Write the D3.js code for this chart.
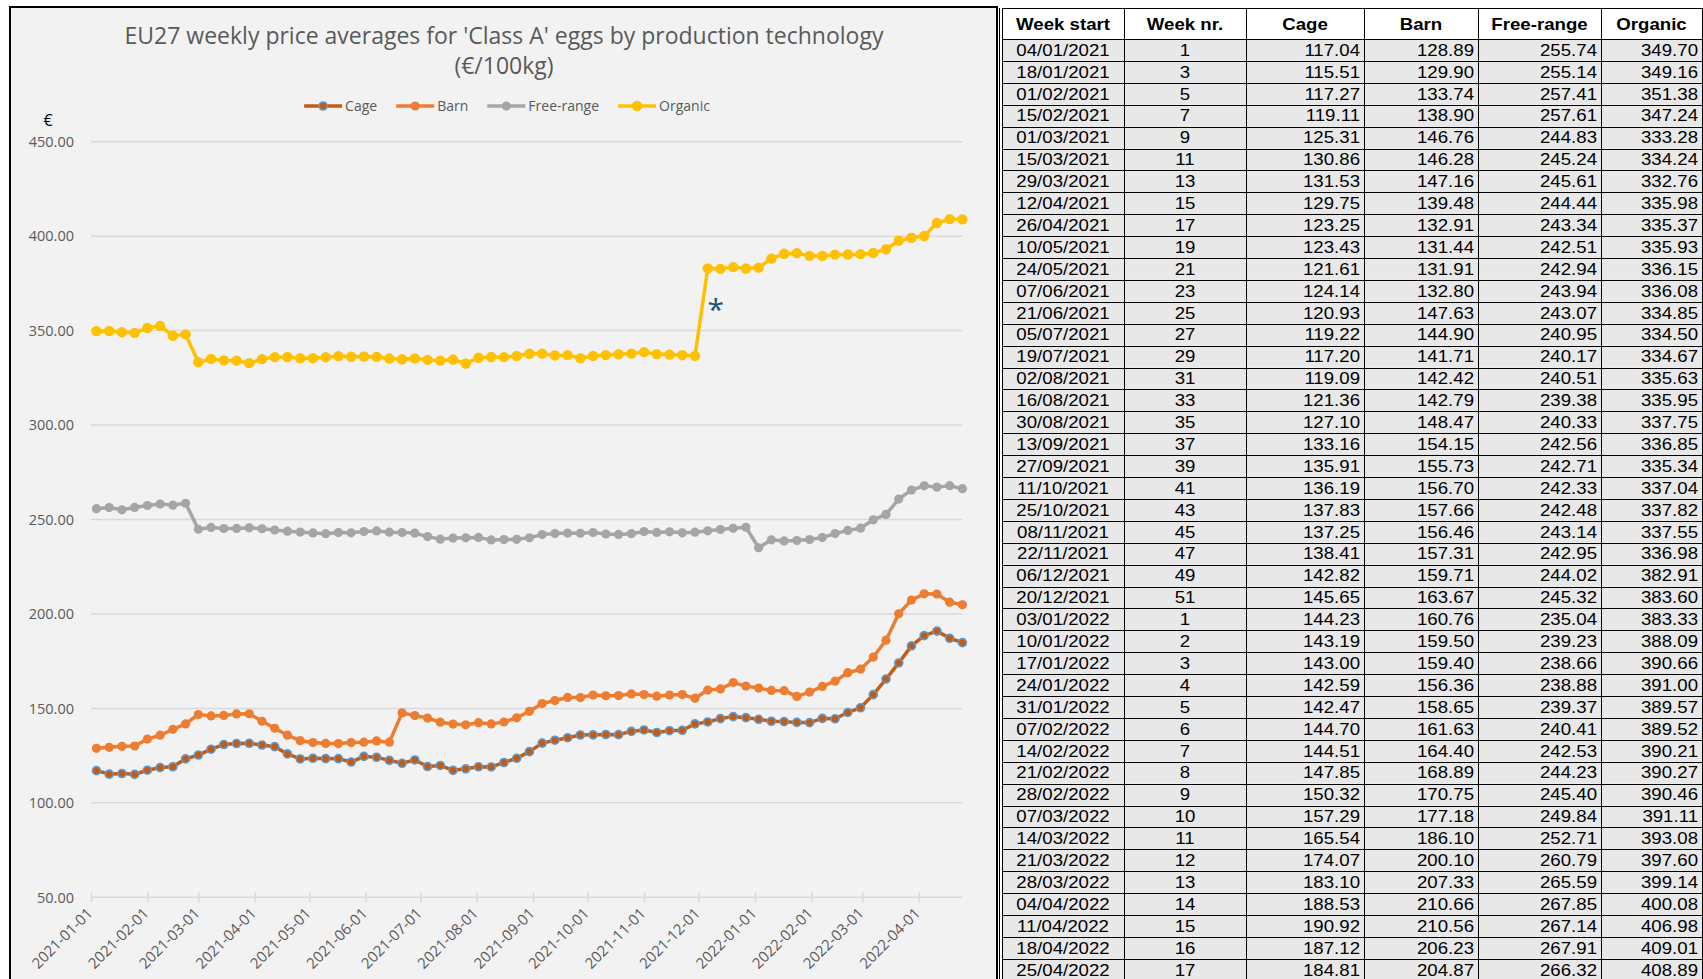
<!DOCTYPE html>
<html>
<head>
<meta charset="utf-8">
<script src="https://cdnjs.cloudflare.com/ajax/libs/d3/7.8.5/d3.min.js"></script>
<style>
body { margin: 0; background: #fff; }
svg { display: block; }
</style>
</head>
<body>
<script>
// weekly week-start dates shown in the chart
var weeks = [
  "2021-01-04","2021-01-11","2021-01-18","2021-01-25","2021-02-01","2021-02-08","2021-02-15","2021-02-22",
  "2021-03-01","2021-03-08","2021-03-15","2021-03-22","2021-03-29","2021-04-05","2021-04-12","2021-04-19",
  "2021-04-26","2021-05-03","2021-05-10","2021-05-17","2021-05-24","2021-05-31","2021-06-07","2021-06-14",
  "2021-06-21","2021-06-28","2021-07-05","2021-07-12","2021-07-19","2021-07-26","2021-08-02","2021-08-09",
  "2021-08-16","2021-08-23","2021-08-30","2021-09-06","2021-09-13","2021-09-20","2021-09-27","2021-10-04",
  "2021-10-11","2021-10-18","2021-10-25","2021-11-01","2021-11-08","2021-11-15","2021-11-22","2021-11-29",
  "2021-12-06","2021-12-13","2021-12-20","2021-12-27",
  "2022-01-03","2022-01-10","2022-01-17","2022-01-24","2022-01-31","2022-02-07","2022-02-14","2022-02-21",
  "2022-02-28","2022-03-07","2022-03-14","2022-03-21","2022-03-28","2022-04-04","2022-04-11","2022-04-18",
  "2022-04-25"
];
var weekNr = [
  1,2,3,4,5,6,7,8,9,10,11,12,13,14,15,16,17,18,19,20,21,22,23,24,25,26,
  27,28,29,30,31,32,33,34,35,36,37,38,39,40,41,42,43,44,45,46,47,48,49,50,51,52,
  1,2,3,4,5,6,7,8,9,10,11,12,13,14,15,16,17
];
var cage = [
  117.04,115.2,115.51,115.1,117.27,118.7,119.11,123.3,125.31,128.4,130.86,131.4,131.53,130.6,129.75,125.9,
  123.25,123.6,123.43,123.4,121.61,124.6,124.14,122.5,120.93,122.7,119.22,119.8,117.20,118.0,119.09,119.0,
  121.36,123.6,127.10,131.6,133.16,134.5,135.91,136.0,136.19,136.1,137.83,138.6,137.25,138.2,138.41,141.8,
  142.82,144.6,145.65,145.1,
  144.23,143.19,143.00,142.59,142.47,144.70,144.51,147.85,150.32,157.29,165.54,174.07,183.10,188.53,190.92,
  187.12,184.81
];
var barn = [
  128.89,129.4,129.90,130.1,133.74,135.8,138.90,141.8,146.76,146.0,146.28,147.1,147.16,143.2,139.48,135.8,
  132.91,131.9,131.44,131.4,131.91,132.1,132.80,132.1,147.63,146.2,144.90,142.7,141.71,141.3,142.42,141.8,
  142.79,145.0,148.47,152.6,154.15,155.8,155.73,157.1,156.70,156.8,157.66,157.3,156.46,157.1,157.31,155.4,
  159.71,160.3,163.67,161.8,
  160.76,159.50,159.40,156.36,158.65,161.63,164.40,168.89,170.75,177.18,186.10,200.10,207.33,210.66,210.56,
  206.23,204.87
];
var freeRange = [
  255.74,256.3,255.14,256.4,257.41,258.2,257.61,258.6,244.83,245.8,245.24,245.3,245.61,245.1,244.44,243.8,
  243.34,242.9,242.51,243.1,242.94,243.6,243.94,243.3,243.07,242.8,240.95,239.6,240.17,240.3,240.51,239.2,
  239.38,239.5,240.33,242.0,242.56,242.8,242.71,243.1,242.33,242.1,242.48,243.6,243.14,243.5,242.95,243.3,
  244.02,244.7,245.32,245.9,
  235.04,239.23,238.66,238.88,239.37,240.41,242.53,244.23,245.40,249.84,252.71,260.79,265.59,267.85,267.14,
  267.91,266.32
];
var organic = [
  349.70,349.8,349.16,348.8,351.38,352.5,347.24,348.0,333.28,335.0,334.24,334.1,332.76,334.9,335.98,336.0,
  335.37,335.4,335.93,336.5,336.15,336.3,336.08,335.2,334.85,335.3,334.50,334.1,334.67,332.6,335.63,336.0,
  335.95,336.6,337.75,337.8,336.85,337.0,335.34,336.6,337.04,337.5,337.82,338.6,337.55,337.3,336.98,336.6,
  382.91,382.7,383.60,382.9,
  383.33,388.09,390.66,391.00,389.57,389.52,390.21,390.27,390.46,391.11,393.08,397.60,399.14,400.08,406.98,
  409.01,408.89
];
// rows listed in the table on the right
var tableDates = [
  "2021-01-04","2021-01-18","2021-02-01","2021-02-15","2021-03-01","2021-03-15","2021-03-29","2021-04-12",
  "2021-04-26","2021-05-10","2021-05-24","2021-06-07","2021-06-21","2021-07-05","2021-07-19","2021-08-02",
  "2021-08-16","2021-08-30","2021-09-13","2021-09-27","2021-10-11","2021-10-25","2021-11-08","2021-11-22",
  "2021-12-06","2021-12-20",
  "2022-01-03","2022-01-10","2022-01-17","2022-01-24","2022-01-31","2022-02-07","2022-02-14","2022-02-21",
  "2022-02-28","2022-03-07","2022-03-14","2022-03-21","2022-03-28","2022-04-04","2022-04-11","2022-04-18",
  "2022-04-25"
];
var tableHeaders = ["Week start", "Week nr.", "Cage", "Barn", "Free-range", "Organic"];
var seriesNames = ["Cage", "Barn", "Free-range", "Organic"];
var yTicks = [50, 100, 150, 200, 250, 300, 350, 400, 450];

var W = 1703, H = 979;
var lineColors = ["#c55a11", "#ed7d31", "#a5a5a5", "#ffc000"];
var markerFill = ["#c55a11", "#ed7d31", "#a5a5a5", "#ffc000"];
var markerStroke = ["#5b9bd5", "#ed7d31", "#a5a5a5", "#ffc000"];
var markerR = [4, 4.6, 4.6, 5.2];
var txtGrey = "#595959";

var parse = d3.utcParse("%Y-%m-%d");
var fmtDay = d3.utcFormat("%d/%m/%Y");
var dates = weeks.map(parse);
var allSeries = [cage, barn, freeRange, organic];

var svg = d3.select("body").append("svg").attr("width", W).attr("height", H);

// chart panel
svg.append("rect")
  .attr("x", 10).attr("y", 7).attr("width", 987).attr("height", H + 10)
  .attr("fill", "#f2f2f2").attr("stroke", "#000").attr("stroke-width", 2);

var x = d3.scaleUtc()
  .domain([parse("2021-01-01"), parse("2022-04-25")])
  .range([91, 962.4]);
var y = d3.scaleLinear().domain([50, 450]).range([897.3, 141.7]);

// title
var title = svg.append("text")
  .attr("x", 504).attr("y", 44)
  .attr("text-anchor", "middle")
  .style("font", "23px 'Open Sans'").attr("fill", txtGrey);
title.append("tspan").attr("x", 504).text("EU27 weekly price averages for 'Class A' eggs by production technology");
title.append("tspan").attr("x", 504).attr("dy", 30).text("(€/100kg)");

// gridlines
svg.append("g").selectAll("line")
  .data(yTicks)
  .enter().append("line")
  .attr("x1", x.range()[0]).attr("x2", x.range()[1])
  .attr("y1", d => y(d)).attr("y2", d => y(d))
  .attr("stroke", "#d9d9d9").attr("stroke-width", 1.5);

// y labels
svg.append("g").selectAll("text")
  .data(yTicks)
  .enter().append("text")
  .attr("x", 74).attr("y", d => y(d))
  .attr("dy", "0.36em")
  .attr("text-anchor", "end")
  .style("font", "14.5px 'Open Sans'").attr("fill", txtGrey)
  .text(d => d.toFixed(2));

svg.append("text")
  .attr("x", 48).attr("y", 126)
  .attr("text-anchor", "middle")
  .style("font", "16px 'Open Sans'").attr("fill", "#000")
  .text("€");

// x axis
var xAxis = d3.axisBottom(x)
  .ticks(d3.utcMonth.every(1))
  .tickFormat(d3.utcFormat("%Y-%m-%d"))
  .tickSize(5)
  .tickSizeOuter(0);
var xg = svg.append("g")
  .attr("transform", "translate(0," + y(50) + ")")
  .call(xAxis);
xg.select(".domain").remove();
xg.selectAll(".tick line").attr("y1", -5).attr("stroke", "#d9d9d9").attr("stroke-width", 1.5);
xg.selectAll(".tick text")
  .attr("y", 0).attr("dy", 0)
  .attr("text-anchor", "end")
  .attr("transform", "translate(2,17) rotate(-45)")
  .style("font", "15px 'Open Sans'").attr("fill", txtGrey);

// lines + markers
var line = d3.line().x((d, i) => x(dates[i])).y(d => y(d));
allSeries.forEach(function (s, k) {
  svg.append("path")
    .datum(s)
    .attr("fill", "none")
    .attr("stroke", lineColors[k])
    .attr("stroke-width", 3.5)
    .attr("stroke-linejoin", "round")
    .attr("d", line);
  svg.append("g").selectAll("circle")
    .data(s)
    .enter().append("circle")
    .attr("cx", (d, i) => x(dates[i]))
    .attr("cy", d => y(d))
    .attr("r", markerR[k])
    .attr("fill", markerFill[k])
    .attr("stroke", markerStroke[k])
    .attr("stroke-width", k == 0 ? 1.6 : 0);
});

// asterisk note at the organic jump
svg.append("text")
  .attr("x", x(parse("2021-12-06")) + 8).attr("y", y(360) + 8)
  .attr("text-anchor", "middle")
  .style("font", "30px 'Open Sans'").attr("fill", "#1f4e79")
  .text("*");

// legend
var legend = svg.append("g");
var lx = 0;
seriesNames.forEach(function (name, k) {
  var g = legend.append("g");
  g.append("line").attr("x1", 0).attr("x2", 38).attr("y1", 0).attr("y2", 0)
    .attr("stroke", lineColors[k]).attr("stroke-width", 3.5);
  g.append("circle").attr("cx", 19).attr("cy", 0).attr("r", markerR[k])
    .attr("fill", markerFill[k]).attr("stroke", markerStroke[k])
    .attr("stroke-width", k == 0 ? 1.6 : 0);
  var t = g.append("text").attr("x", 41).attr("y", 0).attr("dy", "0.35em")
    .style("font", "14px 'Open Sans'").attr("fill", txtGrey).text(name);
  g.attr("transform", "translate(" + lx + ",0)");
  lx += 41 + t.node().getComputedTextLength() + 19;
});
var legW = lx - 19;
legend.attr("transform", "translate(" + (507 - legW / 2) + ",106)");

// table
var colX = [1002, 1124, 1246, 1364, 1478, 1601, 1702];
var headTop = 8, headH = 31, rowH = 21.9;
var tbl = svg.append("g");
var stretch = " scale(1.13,1)";

tbl.append("rect").attr("x", colX[0]).attr("y", headTop)
  .attr("width", colX[6] - colX[0]).attr("height", headH).attr("fill", "#fff");
tbl.selectAll(".row")
  .data(tableDates)
  .enter().append("rect")
  .attr("x", colX[0]).attr("y", (d, i) => headTop + headH + i * rowH)
  .attr("width", colX[6] - colX[0]).attr("height", rowH)
  .attr("fill", "#e8e8e8");

// header text
tbl.selectAll(".head")
  .data(tableHeaders)
  .enter().append("text")
  .attr("text-anchor", "middle")
  .attr("transform", (d, i) => "translate(" + ((colX[i] + colX[i + 1]) / 2) + "," + (headTop + headH / 2 + 6) + ")" + stretch)
  .style("font", "bold 16.5px 'Liberation Sans', Arial")
  .attr("fill", "#000")
  .text(d => d);

// body cells
tableDates.forEach(function (ds, r) {
  var idx = weeks.indexOf(ds);
  var ty = headTop + headH + r * rowH + rowH / 2 + 5.8;
  var cells = [fmtDay(parse(ds)), weekNr[idx], cage[idx].toFixed(2), barn[idx].toFixed(2),
    freeRange[idx].toFixed(2), organic[idx].toFixed(2)];
  cells.forEach(function (c, i) {
    var cx = i < 2 ? (colX[i] + colX[i + 1]) / 2 : colX[i + 1] - 4;
    tbl.append("text")
      .attr("text-anchor", i < 2 ? "middle" : "end")
      .attr("transform", "translate(" + cx + "," + ty + ")" + stretch)
      .style("font", "16.5px 'Liberation Sans', Arial")
      .attr("fill", "#000")
      .text(c);
  });
});

// table grid lines
var nRows = tableDates.length;
var yLines = [headTop, headTop + headH];
for (var r = 1; r <= nRows; r++) yLines.push(headTop + headH + r * rowH);
tbl.selectAll(".hl")
  .data(yLines)
  .enter().append("line")
  .attr("x1", colX[0]).attr("x2", colX[6])
  .attr("y1", d => Math.round(d) + 0.5).attr("y2", d => Math.round(d) + 0.5)
  .attr("stroke", "#000").attr("stroke-width", 1);
tbl.selectAll(".vl")
  .data(colX)
  .enter().append("line")
  .attr("x1", d => d + 0.5).attr("x2", d => d + 0.5)
  .attr("y1", headTop).attr("y2", H + 5)
  .attr("stroke", "#000").attr("stroke-width", 1);
// double left border
tbl.append("line")
  .attr("x1", colX[0] - 2.5).attr("x2", colX[0] - 2.5)
  .attr("y1", headTop).attr("y2", H + 5)
  .attr("stroke", "#000").attr("stroke-width", 1);
</script>
</body>
</html>
